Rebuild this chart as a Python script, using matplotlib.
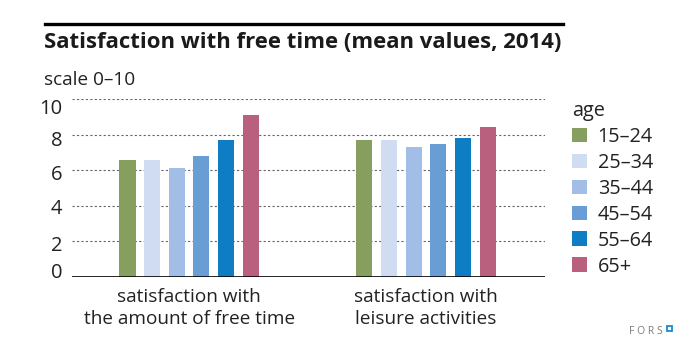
import numpy as np
import matplotlib.pyplot as plt
import matplotlib.transforms as mtransforms
from matplotlib.patches import Patch, Rectangle
from matplotlib.lines import Line2D

# data
categories = ["satisfaction with\nthe amount of free time", "satisfaction with\nleisure activities"]
age_groups = ["15–24", "25–34", "35–44", "45–54", "55–64", "65+"]
free_time = [6.6, 6.6, 6.1, 6.8, 7.7, 9.1]
leisure = [7.7, 7.7, 7.3, 7.5, 7.8, 8.4]
colors = ["#869f5f", "#cfdcf2", "#a3bee6", "#699dd6", "#0f7dc4", "#b9607f"]
yticks = [0, 2, 4, 6, 8, 10]

plt.rcParams['font.family'] = ['Open Sans', 'DejaVu Sans']
txt = "#222222"

fig = plt.figure(figsize=(6.9, 3.5), dpi=100)
ax = fig.add_axes([72/690, 1-277/350, 473/690, 178/350])

values = np.array([free_time, leisure])
x = np.arange(len(categories))
step = 0.104
width = 0.068
for i, age in enumerate(age_groups):
    ax.bar(x + (i - 2.5) * step, values[:, i], width=width, color=colors[i], zorder=3)

ax.set_xlim(-0.494, 1.502)
ax.set_ylim(0, 10)
for t in yticks[1:]:
    ax.axhline(t, color="#666666", lw=0.8, ls=(0, (2, 2)), zorder=1)
ax.axhline(0, color="black", lw=1.2, zorder=4)

for s in ax.spines.values():
    s.set_visible(False)
ax.set_yticks(yticks)
ax.set_yticklabels([str(t) for t in yticks], fontsize=14.5, color=txt)
ax.tick_params(axis='y', length=0, pad=7)
# the labels in the original sit slightly off their grid lines
shifts = [6, -2, -1, -2, -4, -8]
for lab, dy in zip(ax.get_yticklabels(), shifts):
    lab.set_transform(lab.get_transform() + mtransforms.ScaledTranslation(0, dy / 100, fig.dpi_scale_trans))
ax.set_xticks(x)
ax.set_xticklabels(categories, fontsize=13.7, color=txt, linespacing=1.3)
ax.tick_params(axis='x', length=0, pad=8)

# title and rule
fig.add_artist(Line2D([45/690, 563/690], [1-24/350, 1-24/350], color="black", lw=2.4))
fig.text(44/690, 1-43/350, "Satisfaction with free time (mean values, 2014)", fontsize=15.9,
         fontweight="bold", va="center", ha="left", color="#1a1a1a")
fig.text(44/690, 1-80/350, "scale 0–10", fontsize=13.7, va="center", ha="left", color=txt)

# legend
handles = [Patch(facecolor=c, edgecolor="none") for c in colors]
leg = fig.legend(handles, age_groups, title="age", loc="upper left",
                 bbox_to_anchor=(554/690, 1-83/350), frameon=False, fontsize=14.3,
                 title_fontsize=14.3, handlelength=0.75, handleheight=0.75,
                 handletextpad=0.55, labelspacing=0.3, alignment="left")
for t in leg.get_texts():
    t.set_color(txt)
leg.get_title().set_color(txt)

# logo
fig.text(629/690, 1-332/350, "F O R S", fontsize=7.5, color="#7a7a7a", va="center", ha="left")
fig.add_artist(Rectangle((667/690, 1-331/350), 5/690, 5/350, fill=False, edgecolor="#1a8ad0", lw=1.3))

fig.savefig("out.png", dpi=100)
